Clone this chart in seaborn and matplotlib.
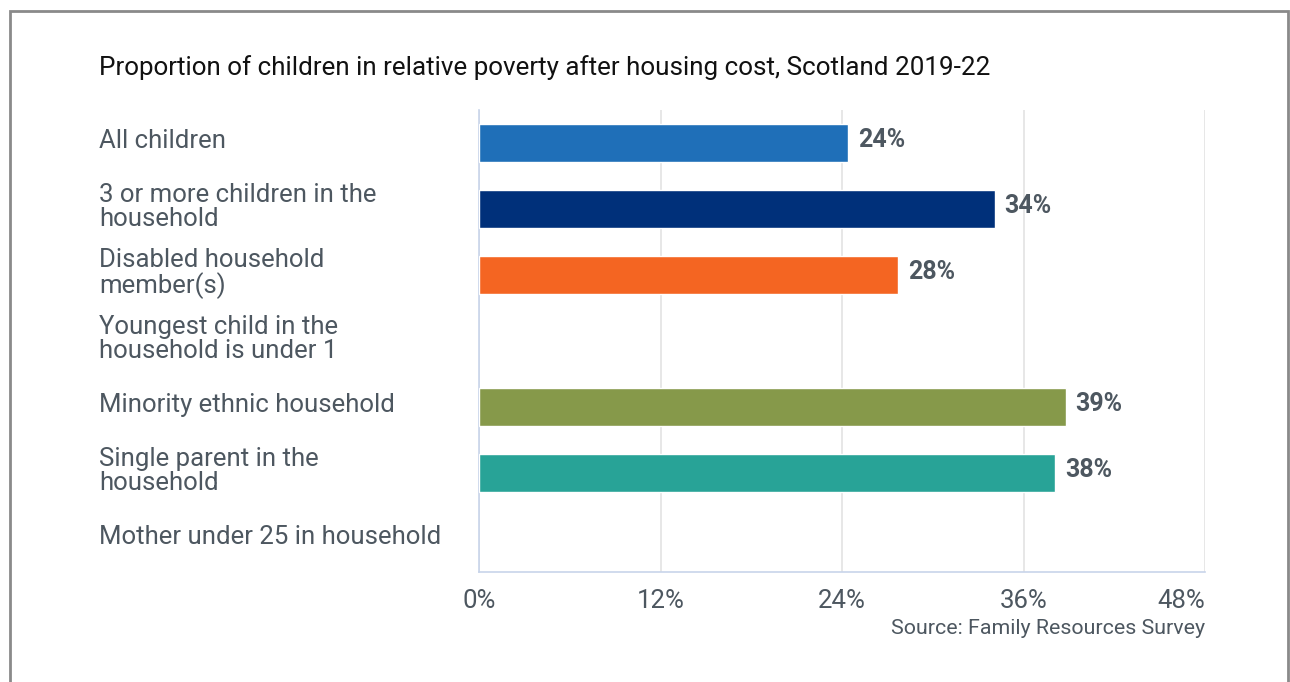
import numpy as np
import pandas as pd
import seaborn as sns
import matplotlib.pyplot as plt
from matplotlib.patches import Rectangle
from matplotlib.transforms import ScaledTranslation

categories = [
    "All children",
    "3 or more children in the\nhousehold",
    "Disabled household\nmember(s)",
    "Youngest child in the\nhousehold is under 1",
    "Minority ethnic household",
    "Single parent in the\nhousehold",
    "Mother under 25 in household",
]
values = [24.4, 34.1, 27.7, np.nan, 38.8, 38.1, np.nan]
colors = ["#1f6fb8", "#00307a", "#f46522", "#ffffff", "#86994a", "#28a397", "#ffffff"]
x_ticks = [0, 12, 24, 36, 48]

sns.set_theme(style="white")
plt.rcParams['font.family'] = ['Roboto', 'DejaVu Sans']

df = pd.DataFrame({"category": categories, "value": values})

fig = plt.figure(figsize=(12.9, 6.82), dpi=100)
ax = fig.add_axes([479 / 1290, 1 - 572 / 682, 726 / 1290, 462 / 682])

sns.barplot(data=df, x="value", y="category", hue="category", order=categories,
            palette=dict(zip(categories, colors)), legend=False, orient="h",
            width=0.58, saturation=1, edgecolor="white", linewidth=1,
            ax=ax, zorder=3)

grey = "#4d5760"
for i, v in enumerate(values):
    if np.isnan(v):
        continue
    ax.text(v + 0.65, i - 0.04, f"{round(v):d}%", va="center", ha="left",
            fontsize=18, fontweight="bold", color=grey)

ax.set_xlim(0, 48)
ax.set_ylim(6.5, -0.5)
ax.set_xticks(x_ticks)
ax.set_xticklabels([f"{t}%" for t in x_ticks])
ax.xaxis.grid(True, color="#e3e3e3", linewidth=1.2, zorder=0)
ax.yaxis.grid(False)
ax.set_axisbelow(True)
for s in ["top", "right"]:
    ax.spines[s].set_visible(False)
for s in ["left", "bottom"]:
    ax.spines[s].set_color("#c8d4ea")
    ax.spines[s].set_linewidth(1.2)

ax.set_xlabel("")
ax.set_ylabel("")
ax.tick_params(axis="x", length=0, pad=12, labelsize=18.5, labelcolor=grey)
ax.tick_params(axis="y", length=0, pad=380 * 0.72, labelsize=18.5, labelcolor=grey)
# last x tick label sits inside the plot edge
ax.get_xticklabels()[-1].set_horizontalalignment("right")
shift_up = ScaledTranslation(0, 5 / 100, fig.dpi_scale_trans)
for lbl in ax.get_yticklabels():
    lbl.set_horizontalalignment("left")
    lbl.set_linespacing(1.05)
    lbl.set_transform(lbl.get_transform() + shift_up)

fig.text(99 / 1290, 1 - 68 / 682, "Proportion of children in relative poverty after housing cost, Scotland 2019-22",
         fontsize=18.7, color="#111111", ha="left", va="center")
fig.text(1205 / 1290, 1 - 628 / 682, "Source: Family Resources Survey",
         fontsize=15.4, color=grey, ha="right", va="center")

fig.patches.append(Rectangle((10 / 1290, -0.05), 1278 / 1290, 1.05 - 11 / 682,
                             transform=fig.transFigure, fill=False,
                             edgecolor="#8a8a8a", linewidth=2))

fig.savefig("out.png", dpi=100)
